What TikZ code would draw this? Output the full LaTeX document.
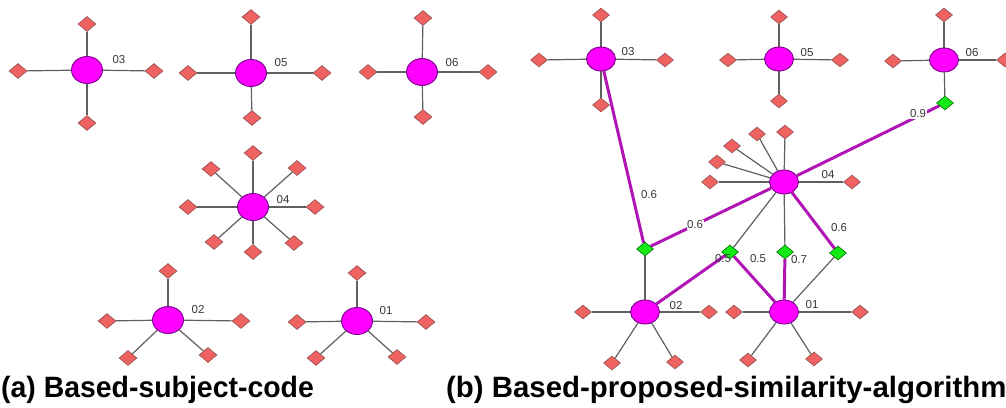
\documentclass[tikz,border=0pt]{standalone}
\usepackage{fontspec}
\usepackage{graphicx}
\setmainfont{Liberation Sans}
\usetikzlibrary{shapes.geometric,backgrounds}
\definecolor{hubfill}{RGB}{255,0,255}
\definecolor{hubline}{RGB}{120,0,140}
\definecolor{leaffill}{RGB}{238,98,98}
\definecolor{leafline}{RGB}{150,80,80}
\definecolor{simfill}{RGB}{20,235,20}
\definecolor{simline}{RGB}{0,110,0}
\definecolor{simedge}{RGB}{176,20,180}
\definecolor{plainedge}{RGB}{95,95,95}
\definecolor{tagtext}{RGB}{55,55,55}
\tikzset{
  hub/.style={ellipse, draw=hubline, fill=hubfill, line width=0.9pt,
    minimum width=31pt, minimum height=27pt, inner sep=0pt},
  hubr/.style={hub, minimum width=29pt, minimum height=24pt},
  leaf/.style={diamond, draw=leafline, fill=leaffill, line width=0.6pt,
    minimum width=18pt, minimum height=15pt, inner sep=0pt},
  leafr/.style={leaf, minimum width=17pt, minimum height=14pt},
  sim/.style={diamond, draw=simline, fill=simfill, line width=0.6pt,
    minimum width=17pt, minimum height=14pt, inner sep=0pt},
  plain/.style={draw=plainedge, line width=1.2pt},
  simlink/.style={draw=simedge, line width=3pt},
  tag/.style={text=tagtext, font=\fontsize{11.5}{11.5}\selectfont, inner sep=0.5pt},
  wtag/.style={tag, fill=white},
  caption/.style={font=\fontsize{28}{28}\selectfont\bfseries, anchor=base west, inner sep=0pt}
}
\begin{document}
\begin{tikzpicture}[x=1pt,y=-1pt]
\useasboundingbox (0,0) rectangle (1006,407);

% ---------- (a) grouping by subject code ----------
\node[hub] (a3) at (87,70) {};
\node[leaf] (a3t) at (87,24) {};
\node[leaf] (a3l) at (18,71) {};
\node[leaf] (a3r) at (154,71) {};
\node[leaf] (a3b) at (87,123) {};
\node[tag] at (119,60) {03};

\node[hub] (a5) at (251,73) {};
\node[leaf] (a5t) at (251,17) {};
\node[leaf] (a5l) at (188,73) {};
\node[leaf] (a5r) at (322,73) {};
\node[leaf] (a5b) at (252,118) {};
\node[tag] at (281,63) {05};

\node[hub] (a6) at (422,72) {};
\node[leaf] (a6t) at (423,18) {};
\node[leaf] (a6l) at (368,72) {};
\node[leaf] (a6r) at (488,72) {};
\node[leaf] (a6b) at (423,117) {};
\node[tag] at (452,63) {06};

\node[hub] (a4) at (253,207) {};
\node[leaf] (a4n) at (253,153) {};
\node[leaf] (a4nw) at (211,169) {};
\node[leaf] (a4ne) at (297,168) {};
\node[leaf] (a4w) at (188,207) {};
\node[leaf] (a4e) at (315,207) {};
\node[leaf] (a4sw) at (214,242) {};
\node[leaf] (a4s) at (253,252) {};
\node[leaf] (a4se) at (294,243) {};
\node[tag] at (283,200) {04};

\node[hub] (a2) at (168,320) {};
\node[leaf] (a2t) at (168,271) {};
\node[leaf] (a2l) at (107,321) {};
\node[leaf] (a2r) at (241,321) {};
\node[leaf] (a2sw) at (128,358) {};
\node[leaf] (a2se) at (208,355) {};
\node[tag] at (198,310) {02};

\node[hub] (a1) at (357,321) {};
\node[leaf] (a1t) at (357,273) {};
\node[leaf] (a1l) at (297,322) {};
\node[leaf] (a1r) at (426,322) {};
\node[leaf] (a1sw) at (316,358) {};
\node[leaf] (a1se) at (397,357) {};
\node[tag] at (386,311) {01};

\begin{scope}[on background layer]
  \foreach \h/\ls in {a3/{a3t,a3l,a3r,a3b}, a5/{a5t,a5l,a5r,a5b},
      a6/{a6t,a6l,a6r,a6b}, a4/{a4n,a4nw,a4ne,a4w,a4e,a4sw,a4s,a4se},
      a2/{a2t,a2l,a2r,a2sw,a2se}, a1/{a1t,a1l,a1r,a1sw,a1se}}{
    \foreach \l in \ls { \path[plain] (\h) -- (\l); }
  }
\end{scope}

% ---------- (b) grouping by the similarity algorithm ----------
\node[hubr] (b3) at (601,59) {};
\node[leafr] (b3t) at (601,15) {};
\node[leafr] (b3l) at (539,60) {};
\node[leafr] (b3r) at (665,60) {};
\node[leafr] (b3b) at (601,105) {};
\node[tag] at (628,52) {03};

\node[hubr] (b5) at (779,59) {};
\node[leafr] (b5t) at (779,17) {};
\node[leafr] (b5l) at (728,60) {};
\node[leafr] (b5r) at (840,60) {};
\node[leafr] (b5b) at (779,101) {};
\node[tag] at (807,53) {05};

\node[hubr] (b6) at (944,60) {};
\node[leafr] (b6t) at (944,15) {};
\node[leafr] (b6l) at (893,61) {};
\node[leafr] (b6r) at (1005,60) {};
\node[sim] (s6) at (945,103) {};
\node[tag] at (972,53) {06};

\node[hubr] (b4) at (784,182) {};
\node[leafr] (b4w) at (710,182) {};
\node[leafr] (b4a) at (717,162) {};
\node[leafr] (b4b) at (732,146) {};
\node[leafr] (b4c) at (757,134) {};
\node[leafr] (b4n) at (785,132) {};
\node[leafr] (b4e) at (852,182) {};
\node[tag] at (828,175) {04};

\node[sim] (s2) at (645,249) {};
\node[sim] (s21) at (730,252) {};
\node[sim] (s1) at (785,252) {};
\node[sim] (s14) at (838,253) {};

\node[hubr] (b2) at (645,312) {};
\node[leafr] (b2l) at (583,312) {};
\node[leafr] (b2r) at (709,312) {};
\node[leafr] (b2sw) at (612,363) {};
\node[leafr] (b2se) at (675,362) {};
\node[tag] at (676,306) {02};

\node[hubr] (b1) at (784,312) {};
\node[leafr] (b1l) at (734,312) {};
\node[leafr] (b1r) at (860,312) {};
\node[leafr] (b1sw) at (748,360) {};
\node[leafr] (b1se) at (814,359) {};
\node[tag] at (812,305) {01};

\begin{scope}[on background layer]
  \foreach \h/\ls in {b3/{b3t,b3l,b3r,b3b}, b5/{b5t,b5l,b5r,b5b},
      b6/{b6t,b6l,b6r,s6}, b4/{b4w,b4a,b4b,b4c,b4n,b4e,s21,s1},
      b2/{b2l,b2r,b2sw,b2se,s2}, b1/{b1l,b1r,b1sw,b1se,s14}}{
    \foreach \l in \ls { \path[plain] (\h) -- (\l); }
  }
  \path[simlink] (b3) -- (s2);
  \path[simlink] (s2) -- (b4);
  \path[simlink] (b4) -- (s6);
  \path[simlink] (b4) -- (s14);
  \path[simlink] (s21) -- (b2);
  \path[simlink] (s21) -- (b1);
  \path[simlink] (s1) -- (b1);
\end{scope}

\node[tag] at (649,195) {0.6};
\node[wtag] at (695,225) {0.6};
\node[tag] at (839,228) {0.6};
\node[wtag] at (918,114) {0.9};
\node[tag] at (723,259) {0.5};
\node[tag] at (758,259) {0.5};
\node[tag] at (799,260) {0.7};

% ---------- captions ----------
\node[caption] (capa) at (1,397) {\scalebox{1.015}[1.05]{(a) Based-subject-code}};
\node[caption] (capb) at (446,397) {\scalebox{1.05}[1.05]{(b) Based-proposed-similarity-algorithm}};
\end{tikzpicture}
\end{document}
